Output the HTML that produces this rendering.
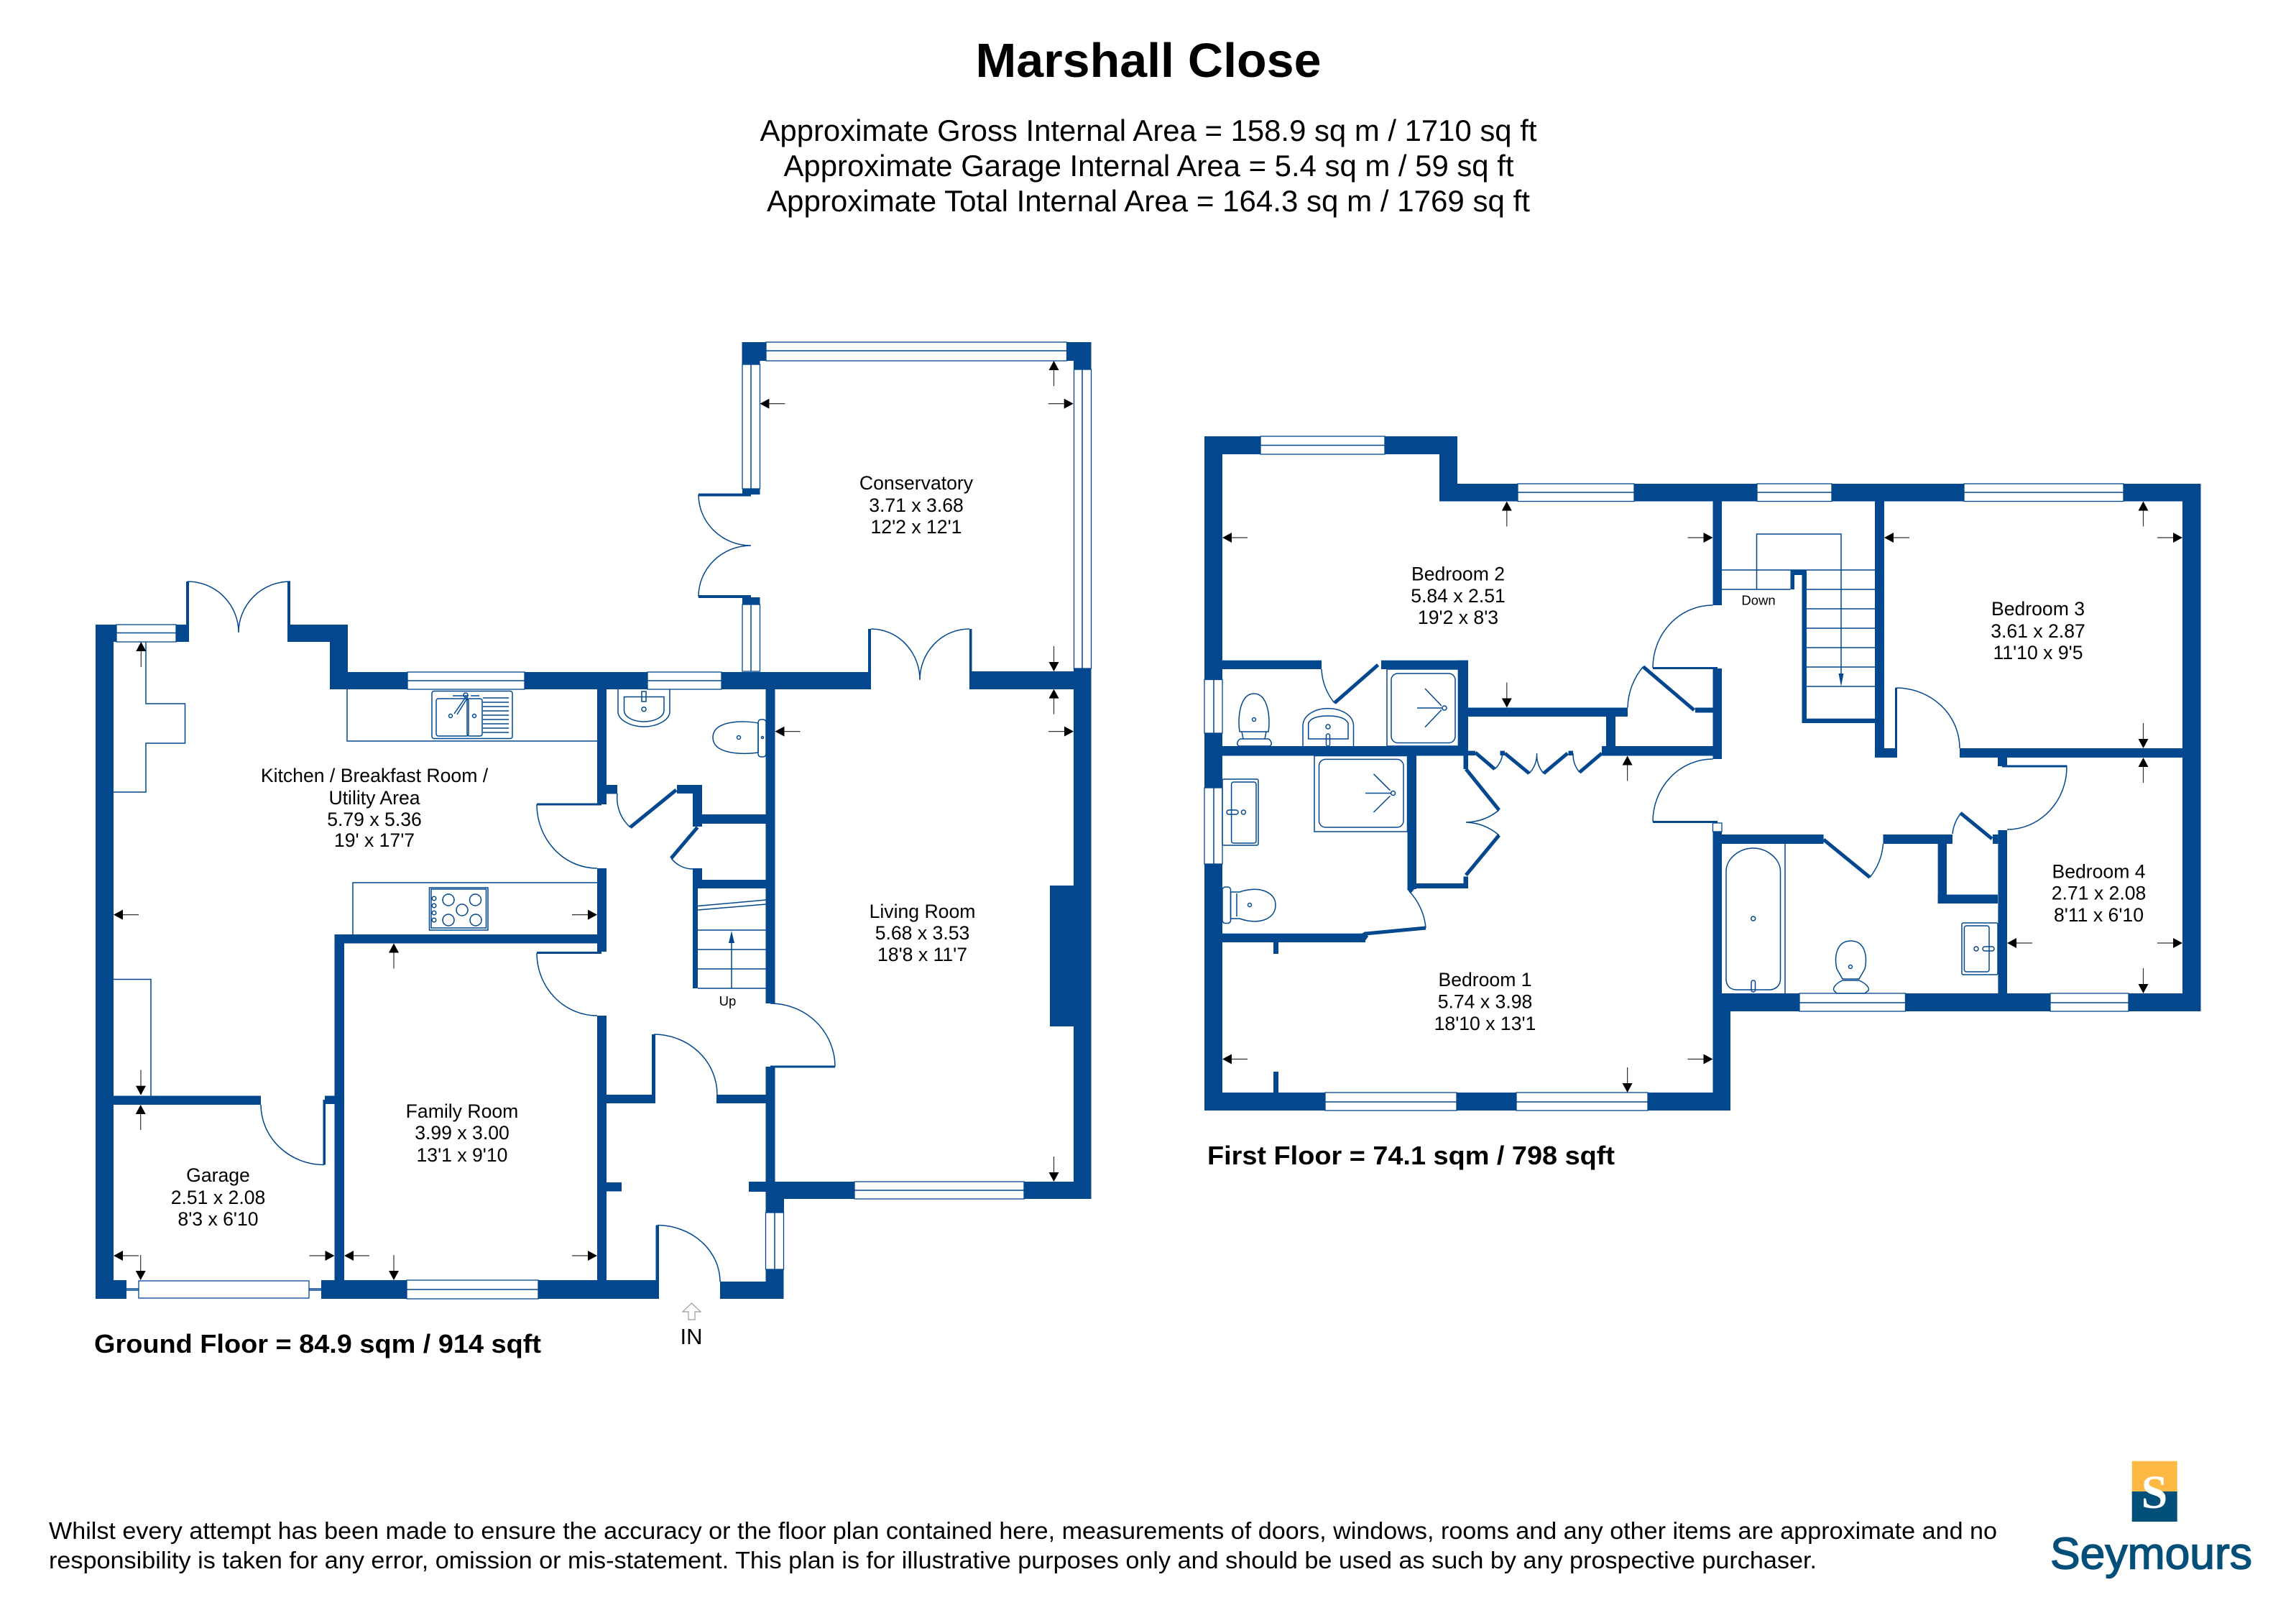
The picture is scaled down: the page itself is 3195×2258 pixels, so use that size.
<!DOCTYPE html>
<html><head><meta charset="utf-8"><title>Marshall Close</title>
<style>
html,body{margin:0;padding:0;background:#fff}
svg{display:block}
text{font-family:"Liberation Sans",sans-serif;fill:#000}
.l{font-size:26.6px;text-anchor:middle}
.b{font-weight:bold}
.wl{fill:#03488e}
.w{fill:#fff;stroke:#03488e;stroke-width:1.3}
.t{fill:none;stroke:#03488e;stroke-width:1.5}
.lf{fill:none;stroke:#03488e;stroke-width:5}
</style></head><body>
<svg xmlns="http://www.w3.org/2000/svg" width="3195" height="2258" viewBox="0 0 3195 2258">
<defs>
<g id="a"><polygon points="0,0 13,-7 13,7" fill="#000"/><line x1="13" y1="0" x2="35" y2="0" stroke="#333" stroke-width="1.2"/></g>
</defs>
<rect width="3195" height="2258" fill="#fff"/>

<text x="1598" y="107" class="b" font-size="67" text-anchor="middle" textLength="481" lengthAdjust="spacingAndGlyphs">Marshall Close</text>
<text x="1598" y="196" font-size="42" text-anchor="middle" textLength="1081" lengthAdjust="spacingAndGlyphs">Approximate Gross Internal Area = 158.9 sq m / 1710 sq ft</text>
<text x="1598.500" y="245" font-size="42" text-anchor="middle" textLength="1016" lengthAdjust="spacingAndGlyphs">Approximate Garage Internal Area = 5.4 sq m / 59 sq ft</text>
<text x="1598" y="294" font-size="42" text-anchor="middle" textLength="1062" lengthAdjust="spacingAndGlyphs">Approximate Total Internal Area = 164.3 sq m / 1769 sq ft</text>

<!-- GROUND FLOOR WALLS -->
<g class="wl">
<rect x="133" y="869" width="25" height="938"/>
<rect x="133" y="869" width="29" height="24"/>
<rect x="245" y="869" width="16" height="24"/>
<rect x="259" y="809" width="4" height="84"/>
<rect x="400" y="809" width="4" height="84"/>
<rect x="404" y="869" width="80" height="24"/>
<rect x="459" y="869" width="25" height="90"/>
<rect x="459" y="935" width="108" height="24"/>
<rect x="730" y="935" width="171" height="24"/>
<rect x="1004" y="935" width="205" height="24"/>
<rect x="1351" y="934" width="167.500" height="25"/>
<rect x="1208" y="875" width="4" height="84"/>
<rect x="1349" y="875" width="3.500" height="84"/>
<rect x="1494" y="930" width="24.500" height="738"/>
<rect x="1032.500" y="476" width="33.500" height="26"/>
<rect x="1032.500" y="476" width="25" height="31"/>
<rect x="1484.500" y="476" width="34" height="26"/>
<rect x="1494" y="476" width="24.500" height="38"/>
<rect x="1033" y="680" width="24.500" height="8"/>
<rect x="1033" y="831" width="24.500" height="10"/>
<rect x="972" y="686.500" width="73" height="4"/>
<rect x="972" y="828" width="73" height="4"/>
<rect x="1065.500" y="959" width="13" height="437"/>
<rect x="1065.500" y="1484" width="13" height="184"/>
<rect x="1072" y="1482.500" width="90" height="3"/>
<rect x="1461" y="1232" width="33" height="196"/>
<rect x="1078" y="1644" width="111" height="24"/>
<rect x="1425" y="1644" width="93.500" height="24"/>
<rect x="1042" y="1644" width="24" height="14"/>
<rect x="1065.500" y="1668" width="25.500" height="19"/>
<rect x="1065.500" y="1766" width="25" height="41"/>
<rect x="1002" y="1783" width="88.500" height="24"/>
<rect x="749" y="1781" width="164" height="26"/>
<rect x="912.500" y="1704.500" width="4.500" height="102.500"/>
<rect x="447" y="1781" width="119" height="26"/>
<rect x="133" y="1781" width="43" height="26"/>
<rect x="465.500" y="1300" width="13.500" height="481"/>
<rect x="465.500" y="1300" width="365.500" height="12.500"/>
<rect x="831" y="959" width="13" height="160"/>
<rect x="831" y="1208" width="13" height="116"/>
<rect x="831" y="1413" width="13" height="368"/>
<rect x="747" y="1117.500" width="90" height="3"/>
<rect x="747" y="1324" width="90" height="3"/>
<rect x="844" y="1523" width="66" height="12"/>
<rect x="907" y="1439" width="5" height="96"/>
<rect x="997" y="1523" width="69" height="12"/>
<rect x="844" y="1645" width="21" height="12.500"/>
<rect x="1043" y="1645" width="23" height="12.500"/>
<rect x="844" y="1092" width="15" height="12.500"/>
<rect x="942" y="1092" width="35" height="12"/>
<rect x="964" y="1092" width="13" height="58"/>
<rect x="977" y="1133" width="89" height="13"/>
<rect x="964" y="1208" width="13" height="28"/>
<rect x="977" y="1224" width="89" height="12"/>
<rect x="964" y="1236" width="7" height="139"/>
<rect x="158" y="1524.500" width="205" height="12.500"/>
<rect x="449.500" y="1530" width="3.500" height="90.500"/>
<rect x="452" y="1524.500" width="13.500" height="11.500"/>
</g>

<!-- GROUND FLOOR WINDOWS -->
<g class="w">
<rect x="162" y="869" width="83" height="24"/>
<rect x="567" y="935" width="163" height="24"/>
<rect x="901" y="935" width="103" height="24"/>
<rect x="1066" y="476" width="418.500" height="26"/>
<rect x="1033" y="507" width="24.500" height="173"/>
<rect x="1033" y="841" width="24.500" height="93"/>
<rect x="1494.500" y="514" width="24" height="416"/>
<rect x="1189" y="1644" width="236" height="24"/>
<rect x="1065.500" y="1687" width="25" height="79"/>
<rect x="566" y="1781" width="183" height="26"/>
<rect x="193" y="1782" width="237" height="24"/>
</g>
<path class="t" d="M162 880.500H245M567 947H730M901 947H1004M1066 488H1484.500M1045 507V680M1045 841V934M1506 514V930M1189 1656H1425M1078 1687V1766M566 1794H749M176 1793H193M176 1795H193M430 1793H447M430 1795H447"/>

<!-- GROUND DOORS -->
<path class="t" d="M261 809A71 71 0 0 1 332 880M404 809A72 71 0 0 0 332 880M972 688A73 71 0 0 0 1045 759M972 830A73 71 0 0 1 1045 759M1212 875A68 71 0 0 1 1280 946M1349 875A69 71 0 0 0 1280 946M1072 1396A90 88 0 0 1 1162 1484M747 1119A84 89 0 0 0 831 1208M747 1326A84 87 0 0 0 831 1413M910 1439A88 84 0 0 1 998 1523M915 1704.500A88 79 0 0 1 1002 1783M363 1537A88 84 0 0 0 451 1620.500M859 1104A55 55 0 0 0 877 1151M934 1194A38 38 0 0 0 964 1209"/>
<path class="lf" d="M877 1151L941 1099M970.500 1151L934 1194"/>

<!-- KITCHEN UNITS -->
<path class="t" d="M483 959V1031H831M491 1300V1228H831M203 893V979H257.500V1034H203V1102H158M158 1362.500H210V1524.500"/>
<g class="t">
<rect x="601" y="961.500" width="112" height="66" rx="3"/>
<rect x="607" y="972" width="45" height="52" rx="3"/>
<rect x="650" y="972" width="21" height="52" rx="3"/>
<circle cx="627" cy="996" r="2.500"/><circle cx="660" cy="996" r="2.500"/>
<path d="M632 993L648 970M636 994L651 970M630 968H652M655 968H667M672 971H708M672 977H708M672 983H708M672 989H708M672 995H708M672 1001H708M672 1007H708M672 1013H708M672 1019H708"/>
<circle cx="648" cy="967" r="3"/>
<rect x="597.500" y="1235" width="81.500" height="59"/>
<rect x="600" y="1237" width="76.500" height="54"/>
<circle cx="624" cy="1252" r="8"/><circle cx="661.500" cy="1252" r="8"/><circle cx="643" cy="1266" r="8"/><circle cx="624" cy="1280" r="8"/><circle cx="662" cy="1280" r="8"/>
<circle cx="604" cy="1250" r="2.800"/><circle cx="604" cy="1260" r="2.800"/><circle cx="604" cy="1270" r="2.800"/><circle cx="604" cy="1280" r="2.800"/>
</g>

<!-- WC -->
<g class="t">
<path d="M860 959V990C860 1002 878 1011 896 1011C914 1011 932 1002 932 990V959"/>
<path d="M868.500 969.500V988C868.500 998 882 1004 896 1004C910 1004 924 998 924 988V969.500Z"/>
<circle cx="896" cy="986.700" r="3"/>
<path d="M893 962H899V976H893Z"/>
<path d="M1055 1006C1035 1002 992 1002 992 1026C992 1050 1035 1050 1055 1047Z"/>
<rect x="1055" y="1001" width="11" height="52" rx="4"/>
<circle cx="1028" cy="1026" r="2.500"/><circle cx="1061" cy="1026" r="1.500"/>
</g>

<!-- GROUND STAIRS -->
<path class="t" d="M971 1260.500L1066 1252M971 1266L1066 1258M971 1294H1066M971 1321H1066M971 1348H1066M971 1375H1066M1018 1375V1300"/>
<polygon points="1018,1295 1014,1312 1022,1312" fill="#03488e"/>
<text x="1012.500" y="1399" font-size="18.500" text-anchor="middle">Up</text>

<!-- GROUND ARROWS -->
<g>
<use href="#a" transform="translate(196.300,893) rotate(90)"/>
<use href="#a" transform="translate(158,1272.600)"/>
<use href="#a" transform="translate(831,1272.600) rotate(180)"/>
<use href="#a" transform="translate(548,1312.500) rotate(90)"/>
<use href="#a" transform="translate(196,1523.600) rotate(270)"/>
<use href="#a" transform="translate(195.700,1537) rotate(90)"/>
<use href="#a" transform="translate(158,1747)"/>
<use href="#a" transform="translate(465.500,1747) rotate(180)"/>
<use href="#a" transform="translate(195.700,1781) rotate(270)"/>
<use href="#a" transform="translate(479,1747)"/>
<use href="#a" transform="translate(831,1747) rotate(180)"/>
<use href="#a" transform="translate(548,1781) rotate(270)"/>
<use href="#a" transform="translate(1057.400,561.600)"/>
<use href="#a" transform="translate(1466.500,502) rotate(90)"/>
<use href="#a" transform="translate(1493.700,561.600) rotate(180)"/>
<use href="#a" transform="translate(1466.500,934) rotate(270)"/>
<use href="#a" transform="translate(1466.500,958.600) rotate(90)"/>
<use href="#a" transform="translate(1078.500,1017.600)"/>
<use href="#a" transform="translate(1494,1017.600) rotate(180)"/>
<use href="#a" transform="translate(1466.500,1644) rotate(270)"/>
</g>

<!-- GROUND LABELS -->
<text class="l" x="521" y="1088">Kitchen / Breakfast Room /</text>
<text class="l" x="521" y="1119">Utility Area</text>
<text class="l" x="521" y="1149">5.79 x 5.36</text>
<text class="l" x="521" y="1178">19' x 17'7</text>
<text class="l" x="643" y="1555">Family Room</text>
<text class="l" x="643" y="1585">3.99 x 3.00</text>
<text class="l" x="643" y="1616">13'1 x 9'10</text>
<text class="l" x="303.500" y="1644">Garage</text>
<text class="l" x="303.500" y="1675">2.51 x 2.08</text>
<text class="l" x="303.500" y="1705">8'3 x 6'10</text>
<text class="l" x="1275" y="681">Conservatory</text>
<text class="l" x="1275" y="712">3.71 x 3.68</text>
<text class="l" x="1275" y="742">12'2 x 12'1</text>
<text class="l" x="1283.500" y="1277">Living Room</text>
<text class="l" x="1283.500" y="1307">5.68 x 3.53</text>
<text class="l" x="1283.500" y="1337">18'8 x 11'7</text>
<text x="131" y="1882" class="b" font-size="36" textLength="622" lengthAdjust="spacingAndGlyphs">Ground Floor = 84.9 sqm / 914 sqft</text>
<text x="962" y="1870" font-size="31" text-anchor="middle">IN</text>
<path d="M962.500 1813L950 1825H958V1836H967V1825H975Z" fill="none" stroke="#999" stroke-width="1.200"/>

<!-- FIRST FLOOR WALLS -->
<g class="wl">
<rect x="1676" y="607" width="25" height="938"/>
<rect x="1676" y="607" width="78" height="25"/>
<rect x="1927" y="607" width="101" height="25"/>
<rect x="2003" y="607" width="25" height="90.500"/>
<rect x="2003" y="673" width="109" height="24.500"/>
<rect x="2274" y="673" width="171" height="24.500"/>
<rect x="2549" y="673" width="184" height="24.500"/>
<rect x="2955" y="673" width="107.500" height="24.500"/>
<rect x="3037" y="673" width="25.500" height="734"/>
<rect x="2962" y="1382" width="100.500" height="25"/>
<rect x="2651.500" y="1382" width="201.500" height="25"/>
<rect x="2396" y="1382" width="108" height="25"/>
<rect x="2383.500" y="1382" width="24.500" height="163"/>
<rect x="2293" y="1520" width="115" height="25"/>
<rect x="2027" y="1520" width="83" height="25"/>
<rect x="1676" y="1520" width="168" height="25"/>
<rect x="1772" y="1311" width="7" height="16"/>
<rect x="1772" y="1491" width="7" height="29"/>
<rect x="2383.500" y="1157" width="12.500" height="250"/>
<rect x="2383.500" y="697" width="12.500" height="145"/>
<rect x="2383.500" y="930" width="12.500" height="126"/>
<rect x="2300" y="928" width="90" height="3"/>
<rect x="2300" y="1142" width="90" height="3"/>
<rect x="2396" y="1161" width="141.600" height="13"/>
<rect x="2620.500" y="1161" width="96.500" height="13"/>
<rect x="2696.600" y="1174" width="12.400" height="83"/>
<rect x="2696.600" y="1244.600" width="83.400" height="12.400"/>
<rect x="2780.400" y="1155" width="12.600" height="227"/>
<rect x="2773" y="1161" width="7.400" height="13"/>
<rect x="2786" y="1064.500" width="90.500" height="3"/>
<rect x="2780" y="1053" width="13" height="13"/>
<rect x="2727" y="1041" width="310" height="13"/>
<rect x="2637" y="957" width="3" height="91"/>
<rect x="2609" y="1041" width="31" height="13"/>
<rect x="2609" y="697" width="13" height="357"/>
<rect x="2507.500" y="793" width="6.500" height="213"/>
<rect x="2507.500" y="999.700" width="101.500" height="6.300"/>
<rect x="2491.500" y="793" width="22.500" height="7"/>
<rect x="2491.500" y="793" width="5.500" height="27"/>
<rect x="2029.400" y="918.700" width="13.600" height="132.800"/>
<rect x="2036.500" y="1051.500" width="6.500" height="18.500"/>
<rect x="1701" y="918.700" width="138" height="12.300"/>
<rect x="1922" y="918.700" width="121" height="12.300"/>
<rect x="1701" y="1038" width="342" height="13.500"/>
<rect x="2043" y="984.500" width="222" height="12.500"/>
<rect x="2235" y="997" width="13" height="54.500"/>
<rect x="2229" y="1038" width="154.500" height="13.500"/>
<rect x="2359" y="984.500" width="24.500" height="7"/>
<rect x="2043" y="1044.600" width="10" height="6.400"/>
<rect x="2087.500" y="1044.600" width="6.500" height="6.400"/>
<rect x="2182.500" y="1044.600" width="6.500" height="6.400"/>
<rect x="1958.500" y="1051" width="12.500" height="186"/>
<rect x="1971" y="1229" width="72" height="7"/>
<rect x="2036.500" y="1219.500" width="6.500" height="16.500"/>
<rect x="1701" y="1298.700" width="199" height="12.300"/>
<polygon points="1958,1237 1965,1230 1969,1236 1963,1243"/>
<polygon points="1895,1298.700 1900,1296 1904,1303 1898,1311 1895,1311"/>
</g>

<!-- FIRST WINDOWS -->
<g class="w">
<rect x="1754" y="607" width="173" height="25"/>
<rect x="2112" y="673" width="162" height="24.500"/>
<rect x="2445" y="673" width="104" height="24.500"/>
<rect x="2733" y="673" width="222" height="24.500"/>
<rect x="2504" y="1382" width="147.500" height="25"/>
<rect x="2853" y="1382" width="109" height="25"/>
<rect x="1844" y="1520" width="183" height="25"/>
<rect x="2110" y="1520" width="183" height="25"/>
<rect x="1676" y="945.500" width="25" height="74.500"/>
<rect x="1676" y="1096" width="25" height="106"/>
<rect x="2383.500" y="1145" width="12.500" height="12"/>
</g>
<path class="t" d="M1754 619.500H1927M2112 685H2274M2445 685H2549M2733 685H2955M2504 1395H2651.500M2853 1395H2962M1844 1533H2027M2110 1533H2293M1689 945.500V1020M1689 1096V1202"/>

<!-- FIRST DOORS -->
<path class="t" d="M2300 929A83.500 87 0 0 1 2383.500 842M2300 1143A83.500 87 0 0 1 2383.500 1056M2602 1220.600A85 85 0 0 0 2620.500 1174M2717 1160A55 55 0 0 1 2729 1131M2876 1067A83 87 0 0 1 2793 1154M2727 1041A88.600 84 0 0 0 2638.400 957M1839 931A80 80 0 0 0 1857 978M2265 984.500A92 92 0 0 1 2286.500 927.500M2080 1070A35 35 0 0 0 2091 1048M2128 1076A40 40 0 0 0 2138.600 1048M2138.600 1048A40 40 0 0 0 2148 1076M2189 1048A40 40 0 0 0 2198 1074.500M2086 1127A75 75 0 0 1 2040 1144M2040 1144A75 75 0 0 1 2086 1162M1984 1291A85 85 0 0 0 1961 1240"/>
<path class="lf" d="M1857 978L1917.600 925M2286.500 927.500L2357.500 988M2537.600 1168L2602 1220.600M2728 1131L2772 1167M2053 1047L2080 1070M2094 1048L2128 1076M2148 1076L2181.400 1048M2198 1074.500L2229 1048M2040 1070L2086 1127M2086 1162L2040 1217.500M1900 1299L1984 1291"/>

<!-- FIRST STAIRS -->
<path class="t" d="M2396 793H2609M2396 820H2491.500M2514 820H2609M2514 847H2609M2514 874H2609M2514 901H2609M2514 928H2609M2514 955H2609M2444.500 820V743H2562V940"/>
<polygon points="2562,955 2558.500,937 2565.500,937" fill="#03488e"/>
<text x="2447" y="841.500" font-size="18.500" text-anchor="middle">Down</text>

<!-- FIRST FIXTURES -->
<g class="t">
<rect x="1930" y="931" width="99.400" height="107"/>
<rect x="1936" y="937" width="89" height="96.500" rx="9"/>
<circle cx="2010" cy="985" r="3"/>
<path d="M2006.500 985H1972M2006 982L1983 958M2006 987.500L1983 1011.600"/>
<rect x="1829" y="1051.500" width="129.500" height="105.500"/>
<rect x="1835.500" y="1056.400" width="117.500" height="94.600" rx="9"/>
<circle cx="1938.600" cy="1103.500" r="3"/>
<path d="M1935.500 1103.500H1900M1934.500 1099.700L1911.500 1076.800M1934.500 1107.400L1911.500 1130"/>
<path d="M1725 1018C1722 1000 1725 965 1745 965C1765 965 1768 1000 1765 1018Z"/>
<path d="M1726 1028C1722 1030 1720 1036 1724 1038H1767C1771 1036 1769 1030 1765 1028Z"/>
<path d="M1728 1018L1730 1028M1762 1018L1760 1028"/>
<circle cx="1745" cy="1001" r="2.500"/>
<path d="M1813 1038V1010C1813 995 1830 985.600 1848 985.600C1866 985.600 1883.500 995 1883.500 1010V1038"/>
<path d="M1820.700 1028V1006C1824 998 1836 996 1848 996C1860 996 1872 998 1876 1006V1028Z"/>
<circle cx="1848" cy="1011" r="3"/><rect x="1845.500" y="1021" width="5" height="17" rx="2.500"/>
<rect x="1701" y="1084" width="50" height="92" rx="2"/>
<rect x="1713.600" y="1088" width="34.400" height="85" rx="3"/>
<circle cx="1730.400" cy="1130" r="3"/>
<rect x="1707" y="1127" width="16" height="6" rx="3"/>
<rect x="1701" y="1234" width="11.500" height="50.500" rx="4"/>
<path d="M1712.500 1241L1725 1241C1750 1232 1775 1240 1775 1259C1775 1280 1750 1287 1725 1278L1712.500 1278Z"/>
<path d="M1721 1243V1275"/>
<circle cx="1739" cy="1259" r="2.500"/>
<path d="M2484 1174V1382"/>
<path d="M2402 1212C2402 1195 2420 1180 2439.700 1180C2459 1180 2477.500 1195 2477.500 1212V1362C2477.500 1372 2470 1377 2462 1377H2417C2408 1377 2402 1372 2402 1362Z"/>
<circle cx="2439.700" cy="1278" r="3"/><rect x="2437" y="1364" width="5.500" height="16" rx="2.500"/>
<path d="M2556 1348C2552 1330 2556 1309 2575.500 1309C2595 1309 2599 1330 2595 1348L2587 1362H2564Z"/>
<path d="M2564 1364C2555 1368 2550 1374 2552 1378L2556 1382H2595L2600 1378C2602 1374 2596 1368 2587 1364Z"/>
<circle cx="2575" cy="1345" r="2.500"/>
<rect x="2730" y="1284" width="50" height="72" rx="2"/>
<rect x="2733.400" y="1288" width="34.600" height="64" rx="3"/>
<circle cx="2750" cy="1320" r="3"/>
<rect x="2759" y="1317" width="16" height="6" rx="3"/>
</g>

<!-- FIRST ARROWS -->
<g>
<use href="#a" transform="translate(1701,748)"/>
<use href="#a" transform="translate(2383.500,748) rotate(180)"/>
<use href="#a" transform="translate(2096.800,697.500) rotate(90)"/>
<use href="#a" transform="translate(2096.800,984.500) rotate(270)"/>
<use href="#a" transform="translate(2264.600,1051.500) rotate(90)"/>
<use href="#a" transform="translate(1701,1473.500)"/>
<use href="#a" transform="translate(2383.500,1473.500) rotate(180)"/>
<use href="#a" transform="translate(2264.600,1520) rotate(270)"/>
<use href="#a" transform="translate(2622,748)"/>
<use href="#a" transform="translate(3037,748) rotate(180)"/>
<use href="#a" transform="translate(2982.500,697.500) rotate(90)"/>
<use href="#a" transform="translate(2982.500,1041) rotate(270)"/>
<use href="#a" transform="translate(2982.500,1054) rotate(90)"/>
<use href="#a" transform="translate(2793,1312)"/>
<use href="#a" transform="translate(3037,1312) rotate(180)"/>
<use href="#a" transform="translate(2982.500,1382) rotate(270)"/>
</g>

<!-- FIRST LABELS -->
<text class="l" x="2029" y="807.500">Bedroom 2</text>
<text class="l" x="2029" y="838">5.84 x 2.51</text>
<text class="l" x="2029" y="868">19'2 x 8'3</text>
<text class="l" x="2066.500" y="1372">Bedroom 1</text>
<text class="l" x="2066.500" y="1402.500">5.74 x 3.98</text>
<text class="l" x="2066.500" y="1433">18'10 x 13'1</text>
<text class="l" x="2836" y="856">Bedroom 3</text>
<text class="l" x="2836" y="887">3.61 x 2.87</text>
<text class="l" x="2836" y="917">11'10 x 9'5</text>
<text class="l" x="2920.500" y="1221.500">Bedroom 4</text>
<text class="l" x="2920.500" y="1251.500">2.71 x 2.08</text>
<text class="l" x="2920.500" y="1282">8'11 x 6'10</text>
<text x="1680" y="1620" class="b" font-size="36" textLength="567" lengthAdjust="spacingAndGlyphs">First Floor = 74.1 sqm / 798 sqft</text>

<!-- FOOTER -->
<text x="68" y="2141" font-size="33.500" textLength="2711" lengthAdjust="spacingAndGlyphs">Whilst every attempt has been made to ensure the accuracy or the floor plan contained here, measurements of doors, windows, rooms and any other items are approximate and no</text>
<text x="68" y="2182" font-size="33.500" textLength="2460" lengthAdjust="spacingAndGlyphs">responsibility is taken for any error, omission or mis-statement. This plan is for illustrative purposes only and should be used as such by any prospective purchaser.</text>

<!-- LOGO -->
<rect x="2966.700" y="2032.700" width="63" height="42.300" fill="#fdb944"/>
<rect x="2966.700" y="2075" width="63" height="42" fill="#024f79"/>
<text x="2998" y="2098" font-size="66" text-anchor="middle" style="font-family:'Liberation Serif',serif;font-weight:bold;fill:#fff">S</text>
<text x="2853" y="2182.700" font-size="62" textLength="281" lengthAdjust="spacingAndGlyphs" style="fill:#024f79;stroke:#024f79;stroke-width:1.500">Seymours</text>
</svg>
</body></html>
